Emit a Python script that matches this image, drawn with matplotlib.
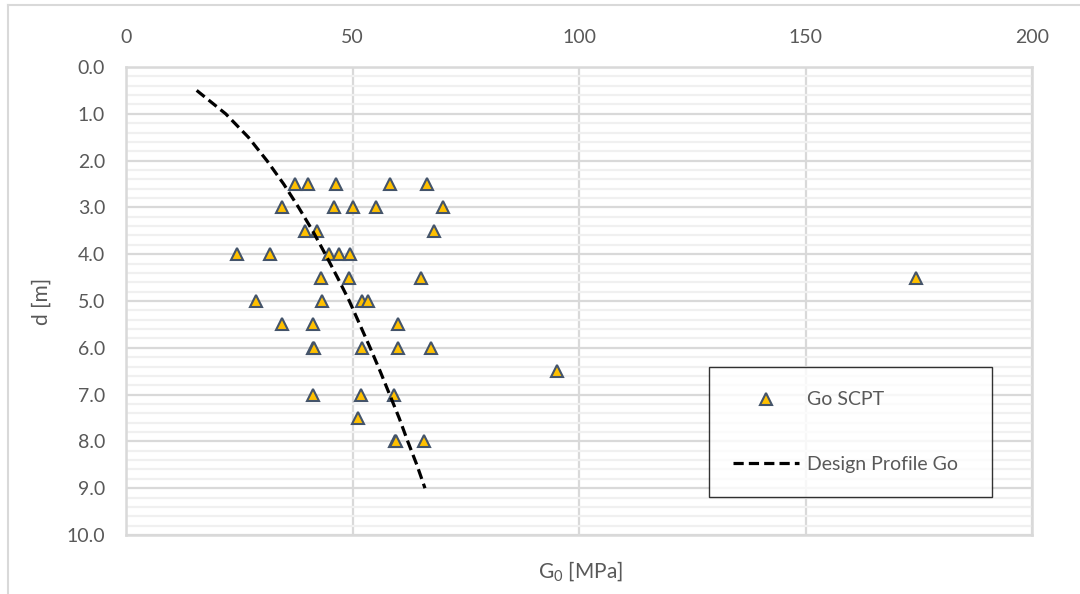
import matplotlib.pyplot as plt
from matplotlib.lines import Line2D
from matplotlib.ticker import MultipleLocator

plt.rcParams['font.family'] = ['Lato', 'DejaVu Sans']
plt.rcParams['mathtext.fontset'] = 'custom'
plt.rcParams['mathtext.rm'] = 'Lato'

# SCPT shear modulus readings: depth [m] and G0 [MPa]
scpt_depth = [2.5, 2.5, 2.5, 2.5, 2.5,
              3.0, 3.0, 3.0, 3.0, 3.0,
              3.5, 3.5, 3.5,
              4.0, 4.0, 4.0, 4.0, 4.0,
              4.5, 4.5, 4.5, 4.5,
              5.0, 5.0, 5.0, 5.0,
              5.5, 5.5, 5.5,
              6.0, 6.0, 6.0, 6.0, 6.0,
              6.5,
              7.0, 7.0, 7.0,
              7.5,
              8.0, 8.0, 8.0]
scpt_g0 = [37.3, 40.2, 46.4, 58.3, 66.4,
           34.5, 46.0, 50.2, 55.1, 69.9,
           39.5, 42.1, 68.0,
           24.4, 31.8, 44.9, 47.1, 49.4,
           43.1, 49.3, 65.2, 174.4,
           28.7, 43.2, 52.2, 53.5,
           34.4, 41.2, 60.0,
           41.2, 41.5, 52.2, 60.0, 67.3,
           95.1,
           41.2, 51.8, 59.2,
           51.3,
           59.4, 59.6, 65.8]

# design profile
design_depth = [0.5, 1.0, 1.5, 2.0, 2.5, 3.0, 3.5, 4.0, 4.5,
                5.0, 5.5, 6.0, 6.5, 7.0, 7.5, 8.0, 8.5, 9.0]
design_g0 = [15.6, 22.0, 27.0, 31.1, 34.8, 38.1, 41.2, 44.0, 46.7,
             49.3, 51.6, 53.9, 56.1, 58.2, 60.3, 62.2, 64.2, 66.0]

text_grey = '#595959'
grid_major = '#D9D9D9'
grid_minor = '#F0F0F0'

W, H = 1080, 594
x0, x1, y0, y1 = 126, 1032, 67, 535  # plot area in pixels

fig = plt.figure(figsize=(W / 100, H / 100), dpi=100)
ax = fig.add_axes([x0 / W, 1 - y1 / H, (x1 - x0) / W, (y1 - y0) / H])

ax.plot(scpt_g0, scpt_depth, linestyle='none', marker='^', markersize=9,
        markerfacecolor='#FFC000', markeredgecolor='#44546A', markeredgewidth=1.5,
        zorder=3)
ax.plot(design_g0, design_depth, color='black', linewidth=2.3,
        dashes=(3.2, 1.6), zorder=4)

ax.set_xlim(0, 200)
ax.set_ylim(10, 0)
ax.xaxis.tick_top()
ax.xaxis.set_major_locator(MultipleLocator(50))
ax.yaxis.set_major_locator(MultipleLocator(1))
ax.yaxis.set_minor_locator(MultipleLocator(0.2))
ax.yaxis.set_major_formatter(lambda v, pos: f'{v:.1f}')

ax.grid(which='major', axis='both', color=grid_major, linewidth=1.6, zorder=1)
ax.grid(which='minor', axis='y', color=grid_minor, linewidth=1.6, zorder=0)
ax.set_axisbelow(True)
for spine in ax.spines.values():
    spine.set_color(grid_major)
    spine.set_linewidth(1.8)

ax.tick_params(which='both', length=0, labelsize=14, colors=text_grey)
ax.tick_params(axis='x', pad=15)
ax.tick_params(axis='y', pad=15)

ax.set_ylabel('d [m]', fontsize=15, color=text_grey)
ax.yaxis.set_label_coords((52 - x0) / (x1 - x0), (y1 - 301) / (y1 - y0))
fig.text(581 / W, 1 - 572 / H, r'G$_\mathregular{0}$ [MPa]', fontsize=15,
         color=text_grey, ha='center', va='center')

handles = [
    Line2D([], [], linestyle='none', marker='^', markersize=9,
           markerfacecolor='#FFC000', markeredgecolor='#44546A', markeredgewidth=1.5),
    Line2D([], [], color='black', linewidth=2.3, dashes=(3.2, 1.6)),
]
lx0, lx1, ly0, ly1 = 709, 992, 367, 497
leg = ax.legend(handles, ['Go SCPT', 'Design Profile Go'], loc='upper left',
                bbox_to_anchor=((lx0 - x0) / (x1 - x0), (y1 - ly1) / (y1 - y0),
                                (lx1 - lx0) / (x1 - x0), (ly1 - ly0) / (y1 - y0)),
                mode='expand', fontsize=14, labelcolor=text_grey, frameon=True,
                fancybox=False, edgecolor='black', handlelength=3.4,
                handletextpad=0.4, labelspacing=2.45, borderpad=1.25,
                borderaxespad=0)
leg.get_frame().set_linewidth(1.0)

# outer chart frame (top and left edges)
fig.add_artist(Line2D([8 / W, 8 / W], [0, 1 - 5 / H], color=grid_major,
                      linewidth=1.5, transform=fig.transFigure))
fig.add_artist(Line2D([8 / W, 1], [1 - 5 / H, 1 - 5 / H], color=grid_major,
                      linewidth=1.5, transform=fig.transFigure))

fig.savefig('out.png', dpi=100)
plt.close(fig)
